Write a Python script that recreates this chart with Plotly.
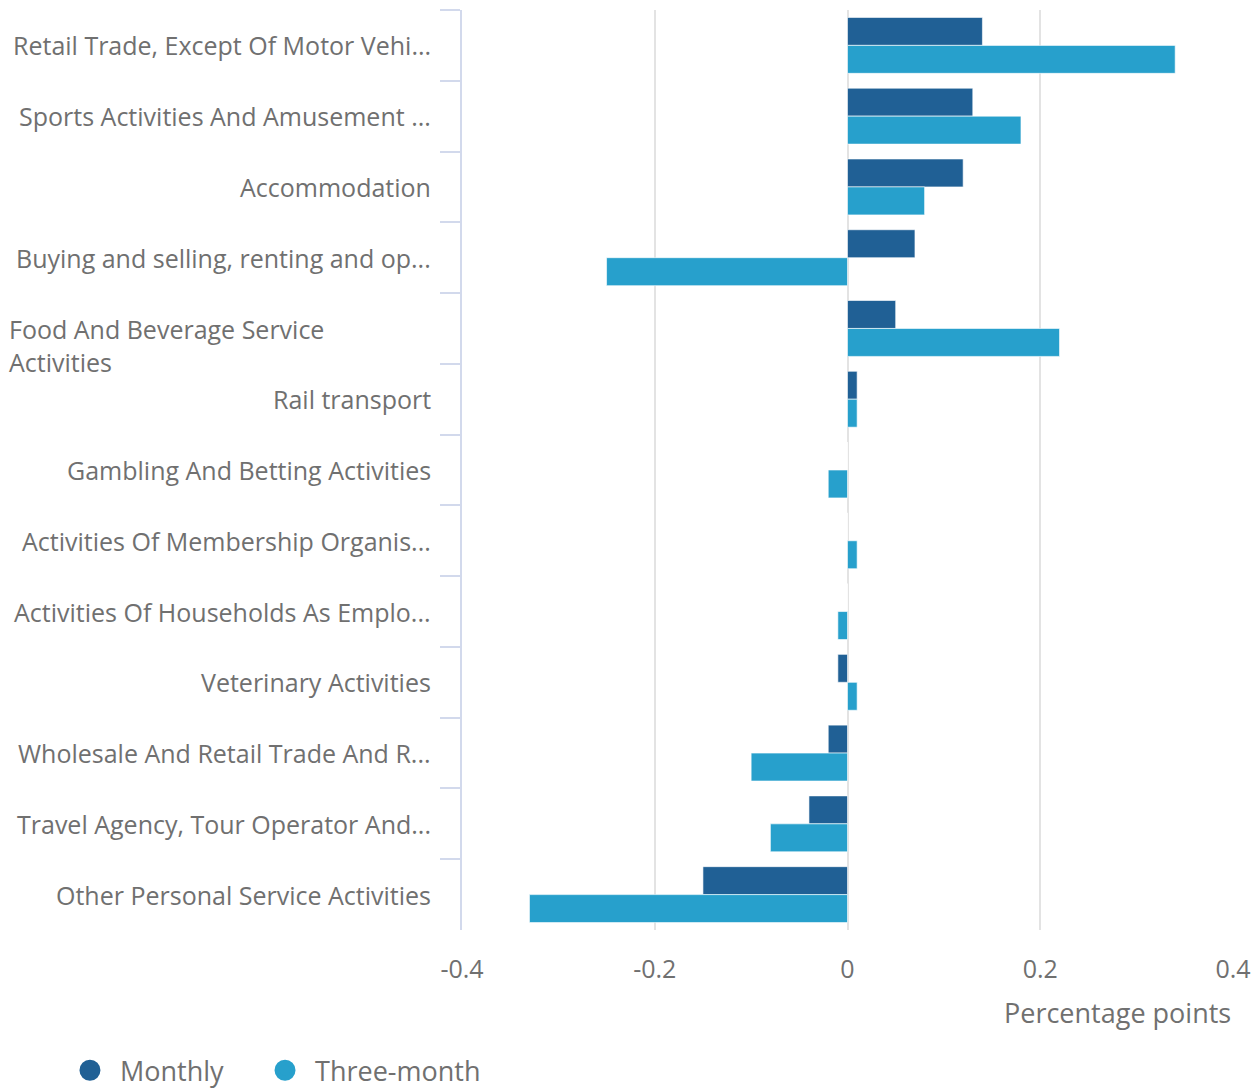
import plotly.graph_objects as go

categories = [
    "Retail Trade, Except Of Motor Vehi...",
    "Sports Activities And Amusement ...",
    "Accommodation",
    "Buying and selling, renting and op...",
    "Food And Beverage Service<br>Activities",
    "Rail transport",
    "Gambling And Betting Activities",
    "Activities Of Membership Organis...",
    "Activities Of Households As Emplo...",
    "Veterinary Activities",
    "Wholesale And Retail Trade And R...",
    "Travel Agency, Tour Operator And...",
    "Other Personal Service Activities",
]
monthly = [0.14, 0.13, 0.12, 0.07, 0.05, 0.01, 0.0, 0.0, 0.0, -0.01, -0.02, -0.04, -0.15]
three_month = [0.34, 0.18, 0.08, -0.25, 0.22, 0.01, -0.02, 0.01, -0.01, 0.01, -0.10, -0.08, -0.33]
x_ticks = [-0.4, -0.2, 0, 0.2, 0.4]
x_tick_labels = ["-0.4", "-0.2", "0", "0.2", "0.4"]
series_names = ["Monthly", "Three-month"]
colors = ["#206095", "#27a0cc"]

TEXT = "#707070"
FONT = "Open Sans"

fig = go.Figure()
for name, vals, col in zip(series_names, [monthly, three_month], colors):
    fig.add_trace(go.Bar(
        y=categories, x=vals, orientation="h", name=name,
        marker=dict(color=col, line=dict(color="rgba(255,255,255,0.6)", width=1)),
        showlegend=False,
    ))
# legend entries with circle markers (one legend box per series)
for name, col, lg in zip(series_names, colors, ["legend", "legend2"]):
    fig.add_trace(go.Scatter(
        x=[None], y=[None], mode="markers", name=name, legend=lg,
        marker=dict(color=col, size=26, symbol="circle", line=dict(color=col, width=6)),
        showlegend=True,
    ))

annotations = []
for cat in categories:
    if "<br>" in cat:
        annotations.append(dict(
            x=-0.590, xref="paper", y=cat, yref="y", text=cat,
            xanchor="left", yanchor="middle", align="left", yshift=-17,
            showarrow=False, font=dict(family=FONT, size=25, color=TEXT),
        ))
    else:
        annotations.append(dict(
            x=-0.0376, xref="paper", y=cat, yref="y", text=cat,
            xanchor="right", yanchor="middle", align="right",
            showarrow=False, font=dict(family=FONT, size=25, color=TEXT),
        ))
annotations.append(dict(
    x=1.0, xref="paper", y=-0.09, yref="paper", text="Percentage points",
    xanchor="right", yanchor="middle", showarrow=False,
    font=dict(family=FONT, size=27, color=TEXT),
))

legend_common = dict(
    orientation="h", xref="container", yref="container",
    y=0.0405, xanchor="left", yanchor="top",
    font=dict(family=FONT, size=27, color=TEXT),
    itemsizing="trace", itemwidth=50, tracegroupgap=0,
    bgcolor="rgba(0,0,0,0)",
)

fig.update_layout(
    width=1252, height=1082,
    margin=dict(l=454, r=27, t=2, b=160),
    paper_bgcolor="white", plot_bgcolor="white",
    barmode="group", bargap=0.21, bargroupgap=0,
    font=dict(family=FONT, size=25, color=TEXT),
    annotations=annotations,
    legend=dict(x=0.0415, **legend_common),
    legend2=dict(x=0.1973, **legend_common),
    xaxis=dict(
        range=[-0.4, 0.4], tickvals=x_ticks, ticktext=x_tick_labels,
        showgrid=True, gridcolor="#e3e3e3", gridwidth=2,
        zeroline=True, zerolinecolor="#e3e3e3", zerolinewidth=2,
        showline=False, ticks="", ticklabelstandoff=22,
        tickfont=dict(family=FONT, size=25, color=TEXT),
    ),
    yaxis=dict(
        autorange="reversed", showticklabels=False,
        showline=True, linecolor="#d2d9ec", linewidth=2,
        ticks="outside", tickson="boundaries", ticklen=20, tickwidth=2,
        tickcolor="#d2d9ec", showgrid=False, zeroline=False,
    ),
)

fig.write_html("out.html")
